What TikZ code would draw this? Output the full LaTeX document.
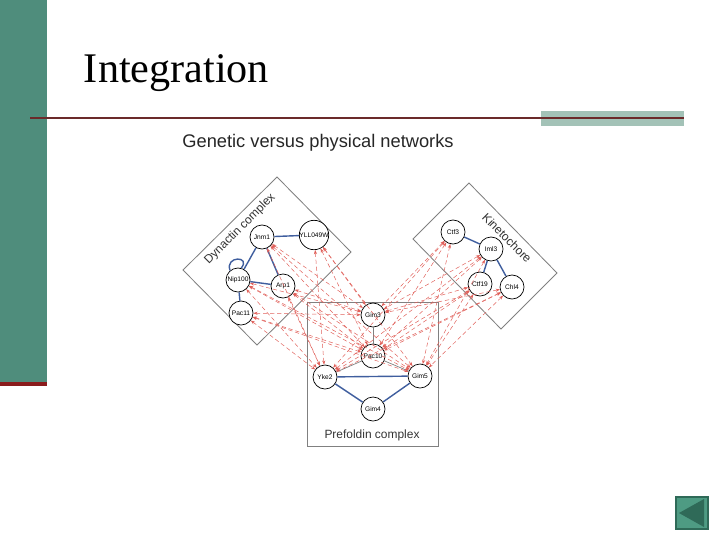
\documentclass[tikz,border=0pt]{standalone}
\usepackage{fontspec}
\setmainfont{Liberation Serif}
\setsansfont{Liberation Sans}
\usetikzlibrary{arrows.meta}
\definecolor{slidegreen}{HTML}{4F8D7C}
\definecolor{barred}{HTML}{8A1C1C}
\definecolor{rulered}{HTML}{6B2A2A}
\definecolor{accentgray}{HTML}{A3C2B7}
\definecolor{physblue}{HTML}{3F5E9E}
\definecolor{genred}{HTML}{E0605A}
\definecolor{navgreen}{HTML}{4E9B83}
\definecolor{navdark}{HTML}{2F6A58}

\begin{document}
\begin{tikzpicture}[x=0.025cm,y=-0.025cm,
  prot/.style={circle,draw,line width=0.5pt,fill=white,minimum size=0.6cm,inner sep=0pt,
    font=\sffamily\fontsize{4.7}{5}\selectfont},
  phys/.style={physblue,line width=1pt},
  weak/.style={gray,line width=0.5pt},
  gen/.style={genred,densely dashed,line width=0.35pt,
    {Stealth[length=3pt,width=2.2pt]}-{Stealth[length=3pt,width=2.2pt]}},
  cplx/.style={gray,line width=0.6pt},
  cplxlabel/.style={font=\sffamily\fontsize{8.5}{9}\selectfont,text=black!80}]
\useasboundingbox (0,0) rectangle (720,540);
% slide frame
\fill [slidegreen] (0,0) rectangle (47,382);
\fill [barred] (0,382) rectangle (47,386);
\fill [accentgray] (541,111) rectangle (684,126);
\draw [rulered, line width=1.5pt] (30,118) -- (684,118);
\node (title) [anchor=base west, font=\fontsize{30}{32}\selectfont] at (79,82) {Integration};
\node (subtitle) [font=\sffamily\fontsize{13}{14}\selectfont, text=black!85] at (318,143) {Genetic versus physical networks};

% complexes
\draw [cplx] (277,177) -- (183,270) -- (257,345) -- (351,252) -- cycle;
\draw [cplx] (469,183) -- (413,239) -- (501,329) -- (557,273) -- cycle;
\draw [cplx] (307,302) rectangle (438,446);
\node (dyn) [cplxlabel, rotate=45] at (240,229) {Dynactin complex};
\node (kin) [cplxlabel, rotate=-45] at (507,238) {Kinetochore};
\node (pre) [cplxlabel] at (372,435) {Prefoldin complex};

% proteins
\node (jnm) [prot] at (262,237) {Jnm1};
\node (yll) [prot] at (314,235) {YLL049W};
\node (nip) [prot] at (238,280) {Nip100};
\node (arp) [prot] at (283,286) {Arp1};
\node (pac11) [prot] at (241,313) {Pac11};
\node (ctf3) [prot] at (453,232) {Ctf3};
\node (iml3) [prot] at (491,249) {Iml3};
\node (ctf19) [prot] at (480,284) {Ctf19};
\node (chl4) [prot] at (512,287) {Chl4};
\node (gim3) [prot] at (373,315) {Gim3};
\node (pac10) [prot] at (373,356) {Pac10};
\node (yke2) [prot] at (325,377) {Yke2};
\node (gim5) [prot] at (420,376) {Gim5};
\node (gim4) [prot] at (373,409) {Gim4};

% physical interactions
\draw [phys] (jnm) -- (yll);
\draw [phys] (jnm) -- (nip);
\draw [phys] (jnm) -- (arp);
\draw [phys] (nip) -- (arp);
\draw [phys] (nip) -- (pac11);
\draw [phys] (nip.130) .. controls +(110:0.4cm) and +(50:0.4cm) .. (nip.75);
\draw [phys] (ctf3) -- (iml3);
\draw [phys] (iml3) -- (ctf19);
\draw [phys] (iml3) -- (chl4);
\draw [phys] (yke2) -- (gim5);
\draw [phys] (yke2) -- (gim4);
\draw [phys] (gim5) -- (gim4);
\draw [weak] (gim3) -- (pac10);
\draw [weak] (pac10) -- (yke2);
\draw [weak] (pac10) -- (gim5);

% genetic interactions
\foreach \a in {jnm,yll,nip,arp,pac11,ctf3,iml3,ctf19,chl4}
  \foreach \b in {gim3,pac10,yke2,gim5}
    \draw [gen] (\a) -- (\b);

% nav button
\draw [navdark, fill=navgreen, line width=1pt] (676,497) rectangle (708,529);
\fill [navdark] (679,513) -- (704,499) -- (704,527) -- cycle;
\end{tikzpicture}
\end{document}
